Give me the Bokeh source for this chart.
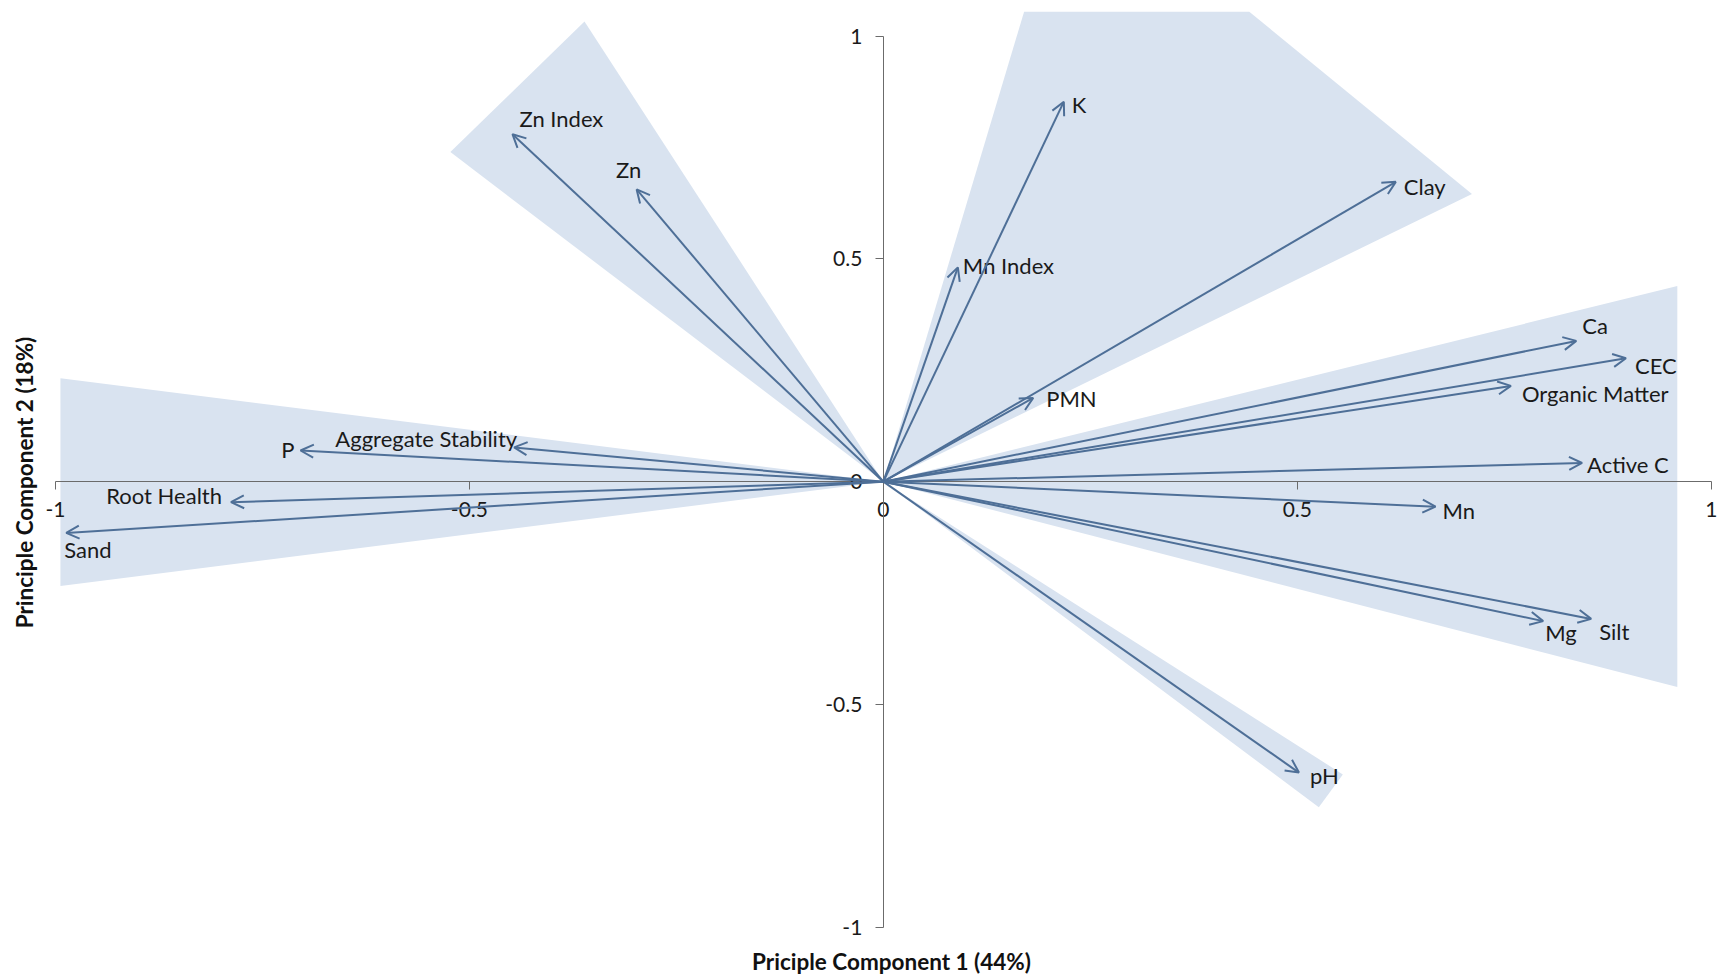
from bokeh.plotting import figure
from bokeh.models import (ColumnDataSource, Arrow, OpenHead, FixedTicker,
                          NumeralTickFormatter, Label, Range1d)
from bokeh.core.properties import value
from bokeh.embed import file_html
from bokeh.resources import INLINE
import math

# ---- loadings on the first two principal components ----
variables = ["Zn Index", "Zn", "K", "Mn Index", "Clay", "PMN", "Ca", "CEC",
             "Organic Matter", "Active C", "Mn", "Mg", "Silt", "pH",
             "Aggregate Stability", "P", "Root Health", "Sand"]
pc1 = [-0.448, -0.298, 0.218, 0.090, 0.619, 0.181, 0.837, 0.897,
       0.758, 0.844, 0.667, 0.797, 0.855, 0.502,
       -0.446, -0.704, -0.788, -0.987]
pc2 = [0.780, 0.656, 0.853, 0.481, 0.673, 0.188, 0.316, 0.277,
       0.215, 0.042, -0.056, -0.313, -0.308, -0.653,
       0.077, 0.070, -0.046, -0.115]

# ---- shaded variable groups (polygon outlines in PC space) ----
group_pc1 = [
    [0.0, -0.994, -0.994],               # sand / root health / P / aggregate
    [0.0, -0.523, -0.361],               # zinc
    [0.0, 0.170, 0.442, 0.711],          # K / Mn index / clay / PMN
    [0.0, 0.959, 0.959],                 # Ca ... silt
    [0.0, 0.526, 0.555],                 # pH
]
group_pc2 = [
    [0.0, 0.232, -0.234],
    [0.0, 0.740, 1.033],
    [0.0, 1.055, 1.055, 0.646],
    [0.0, 0.439, -0.461],
    [0.0, -0.731, -0.657],
]

tick_values = [-1, -0.5, 0, 0.5, 1]

# label placement next to each arrow tip: (alignment, dx px, dy px)
label_place = {
    "Zn Index": ("left", 7, -16), "Zn": ("center", -8, -20),
    "K": ("left", 8, 3), "Mn Index": ("left", 5, -2),
    "Clay": ("left", 8, 5), "PMN": ("left", 13, 1),
    "Ca": ("left", 6, -15), "CEC": ("left", 9, 7),
    "Organic Matter": ("left", 11, 8), "Active C": ("left", 5, 2),
    "Mn": ("left", 7, 4), "Mg": ("left", 2, 11), "Silt": ("left", 8, 13),
    "pH": ("left", 11, 3), "Aggregate Stability": ("right", 3, -9),
    "P": ("right", -6, -1), "Root Health": ("right", -9, -7),
    "Sand": ("left", -2, 17),
}

W, H = 1722, 974
FONT = "Lato"
ARROW_COLOR = "#4e6f97"
SHADE = "#d9e3f0"
AXIS_COLOR = "#6b6b6b"

p = figure(width=W, height=H, output_backend="svg", toolbar_location=None,
           x_range=Range1d(-1.0664, 1.0136), y_range=Range1d(-1.1062, 1.0801),
           min_border=0, min_border_left=0, min_border_right=0,
           min_border_top=0, min_border_bottom=0)
p.outline_line_color = None
p.grid.visible = False
p.background_fill_color = "white"
p.border_fill_color = "white"

# shaded groups
p.patches(xs=group_pc1, ys=group_pc2, fill_color=SHADE, fill_alpha=1.0,
          line_color=None)

# axes crossing at the origin
for ax in (p.xaxis[0], p.yaxis[0]):
    ax.fixed_location = 0
    ax.bounds = (-1, 1)
    ax.ticker = FixedTicker(ticks=tick_values, minor_ticks=[])
    ax.formatter = NumeralTickFormatter(format="0.[0]")
    ax.axis_line_color = AXIS_COLOR
    ax.axis_line_width = 1
    ax.major_tick_line_color = AXIS_COLOR
    ax.major_tick_out = 8
    ax.major_tick_in = 0
    ax.minor_tick_line_color = None
    ax.major_label_text_font = FONT
    ax.major_label_text_font_size = "21px"
    ax.major_label_text_color = "#1a1a1a"
p.xaxis[0].major_label_standoff = 12
p.yaxis[0].major_label_standoff = 13

# loading vectors
vec = ColumnDataSource(dict(x0=[0.0] * len(variables), y0=[0.0] * len(variables),
                            x1=pc1, y1=pc2))
p.add_layout(Arrow(source=vec, x_start="x0", y_start="y0", x_end="x1", y_end="y1",
                   line_color=ARROW_COLOR, line_width=2,
                   end=OpenHead(size=13, line_color=ARROW_COLOR, line_width=2)))

# variable names
for align in ("left", "right", "center"):
    idx = [i for i, v in enumerate(variables) if label_place[v][0] == align]
    src = ColumnDataSource(dict(
        x=[pc1[i] for i in idx], y=[pc2[i] for i in idx],
        name=[variables[i] for i in idx],
        dx=[label_place[variables[i]][1] for i in idx],
        dy=[label_place[variables[i]][2] for i in idx]))
    p.text(x="x", y="y", text="name", source=src, x_offset="dx", y_offset="dy",
           text_align=align, text_baseline="middle", text_font=value(FONT),
           text_font_size="22px", text_color="#1a1a1a")

# axis titles
p.add_layout(Label(x=891, y=H - 961, x_units="screen", y_units="screen",
                   text="Priciple Component 1 (44%)", text_font=FONT,
                   text_font_size="22.5px", text_font_style="bold",
                   text_align="center", text_baseline="middle",
                   text_color="#111111"))
p.add_layout(Label(x=24, y=H - 482, x_units="screen", y_units="screen",
                   text="Principle Component 2 (18%)", text_font=FONT,
                   text_font_size="22.5px", text_font_style="bold",
                   text_align="center", text_baseline="middle",
                   angle=math.pi / 2, text_color="#111111"))

open("out.html", "w").write(file_html(p, INLINE))
